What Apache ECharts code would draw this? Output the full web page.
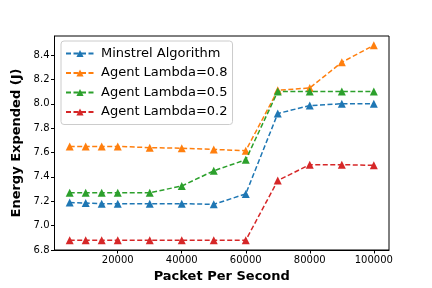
<!DOCTYPE html>
<html>
<head>
<meta charset="utf-8">
<script src="https://cdn.jsdelivr.net/npm/echarts@6/dist/echarts.min.js"></script>
<style>html,body{margin:0;padding:0;background:#fff}#c{width:432px;height:288px}</style>
</head>
<body>
<div id="c"></div>
<script>
const packets = [5000, 10000, 15000, 20000, 30000, 40000, 50000, 60000, 70000, 80000, 90000, 100000];
const minstrel = [7.19, 7.185, 7.18, 7.18, 7.18, 7.18, 7.175, 7.26, 7.92, 7.985, 8.0, 8.0];
const lambda08 = [7.65, 7.65, 7.65, 7.65, 7.64, 7.635, 7.625, 7.615, 8.11, 8.13, 8.34, 8.48];
const lambda05 = [7.27, 7.27, 7.27, 7.27, 7.27, 7.325, 7.45, 7.54, 8.10, 8.10, 8.10, 8.10];
const lambda02 = [6.88, 6.88, 6.88, 6.88, 6.88, 6.88, 6.88, 6.88, 7.37, 7.50, 7.50, 7.495];
const xTicks = [20000, 40000, 60000, 80000, 100000];
const yTicks = [6.8, 7.0, 7.2, 7.4, 7.6, 7.8, 8.0, 8.2, 8.4];
const names = ['Minstrel Algorithm', 'Agent Lambda=0.8', 'Agent Lambda=0.5', 'Agent Lambda=0.2'];
const colors = ['#1f77b4', '#ff7f0e', '#2ca02c', '#d62728'];
const seriesData = [minstrel, lambda08, lambda05, lambda02];

const font = 'DejaVu Sans';
const chart = echarts.init(document.getElementById('c'), null, {renderer: 'canvas'});
chart.setOption({
  animation: false,
  color: colors,
  grid: {left: 54.5, right: 43, top: 36, bottom: 36, show: true, borderColor: '#000', borderWidth: 1, backgroundColor: 'transparent'},
  legend: {
    left: 61, top: 41,
    orient: 'vertical',
    itemWidth: 28, itemHeight: 9, itemGap: 6.5,
    padding: [6, 5, 6, 4],
    backgroundColor: 'rgba(255,255,255,0.8)',
    borderColor: '#cccccc', borderWidth: 1, borderRadius: 3,
    textStyle: {fontFamily: font, fontSize: 13, color: '#000', padding: [0, 0, 0, 2]},
    data: names
  },
  xAxis: {
    type: 'value', min: 250, max: 104750,
    name: 'Packet Per Second', nameLocation: 'middle', nameGap: 20,
    nameTextStyle: {fontFamily: font, fontSize: 13, fontWeight: 'bold', color: '#000'},
    axisLine: {show: true, lineStyle: {color: '#000', width: 1}},
    axisTick: {show: true, length: 3.5, lineStyle: {color: '#000'}, customValues: xTicks},
    axisLabel: {fontFamily: font, fontSize: 10, color: '#000', margin: 5, customValues: xTicks,
      formatter: v => String(Math.round(v))},
    splitLine: {show: false}
  },
  yAxis: {
    type: 'value', min: 6.8, max: 8.556,
    name: 'Energy Expended (J)', nameLocation: 'middle', nameGap: 29,
    nameTextStyle: {fontFamily: font, fontSize: 13, fontWeight: 'bold', color: '#000'},
    axisLine: {show: true, lineStyle: {color: '#000', width: 1}},
    axisTick: {show: true, length: 3.5, lineStyle: {color: '#000'}, customValues: yTicks},
    axisLabel: {fontFamily: font, fontSize: 10, color: '#000', margin: 5, customValues: yTicks,
      formatter: v => v.toFixed(1)},
    splitLine: {show: false}
  },
  series: seriesData.map((d, i) => ({
    name: names[i],
    type: 'line',
    data: packets.map((x, j) => [x, d[j]]),
    symbol: 'triangle',
    symbolSize: 8,
    lineStyle: {type: [5, 2.5], width: 1.5, color: colors[i]},
    itemStyle: {color: colors[i]},
    z: 2 + i
  }))
});
</script>
</body>
</html>
